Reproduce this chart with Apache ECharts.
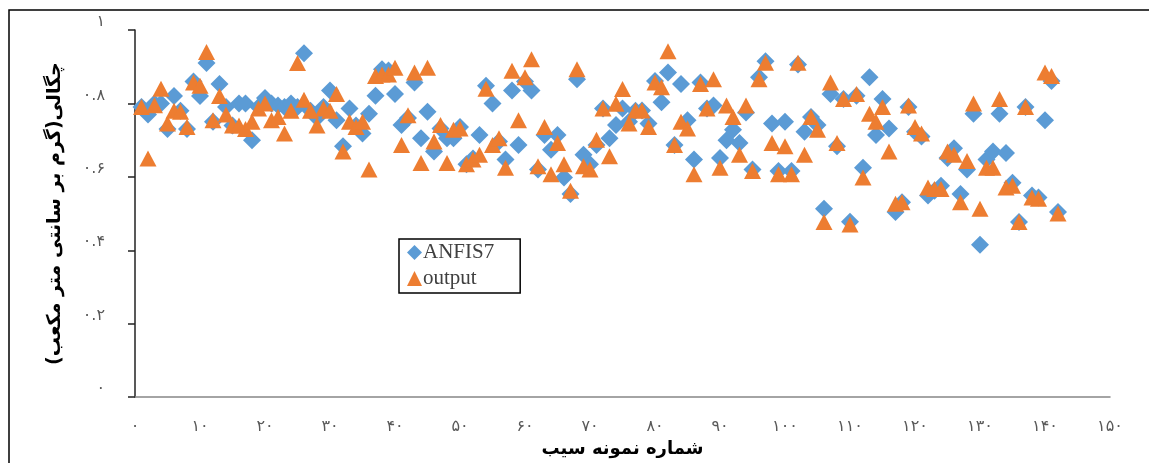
<!DOCTYPE html>
<html>
<head>
<meta charset="utf-8">
<script src="https://cdn.jsdelivr.net/npm/echarts@6/dist/echarts.min.js"></script>
<style>
  html, body { margin: 0; padding: 0; background: #fff; }
  #chart { width: 1149px; height: 463px; }
</style>
</head>
<body>
<div id="chart"></div>
<script>
  // ANFIS7 model values, sample 1..142
  const anfis7 = [
    0.79, 0.77, 0.80, 0.80, 0.73, 0.82, 0.78, 0.73, 0.86, 0.82,
    0.91, 0.75, 0.853, 0.79, 0.74, 0.80, 0.80, 0.70, 0.79, 0.815,
    0.80, 0.794, 0.79, 0.80, 0.79, 0.937, 0.78, 0.76, 0.79, 0.835,
    0.754, 0.683, 0.786, 0.74, 0.718, 0.772, 0.821, 0.893, 0.89, 0.826,
    0.741, 0.76, 0.857, 0.705, 0.777, 0.669, 0.732, 0.705, 0.705, 0.736,
    0.634, 0.65, 0.714, 0.848, 0.80, 0.696, 0.647, 0.835, 0.687, 0.86,
    0.835, 0.62, 0.714, 0.674, 0.714, 0.598, 0.553, 0.866, 0.66, 0.634,
    0.687, 0.786, 0.705, 0.741, 0.786, 0.75, 0.78, 0.781, 0.745, 0.861,
    0.803, 0.884, 0.687, 0.853, 0.754, 0.647, 0.857, 0.786, 0.794, 0.651,
    0.70, 0.728, 0.692, 0.775, 0.62, 0.871, 0.915, 0.745, 0.616, 0.75,
    0.616, 0.906, 0.723, 0.763, 0.741, 0.513, 0.826, 0.683, 0.812, 0.478,
    0.821, 0.625, 0.871, 0.714, 0.812, 0.732, 0.504, 0.531, 0.79, 0.723,
    0.71, 0.549, 0.562, 0.576, 0.651, 0.678, 0.553, 0.62, 0.772, 0.415,
    0.647, 0.669, 0.772, 0.665, 0.584, 0.477, 0.79, 0.549, 0.544, 0.754,
    0.861, 0.504
  ];

  // measured output values, sample 1..142
  const output = [
    0.79, 0.65, 0.795, 0.84, 0.745, 0.78, 0.777, 0.736, 0.857, 0.848,
    0.94, 0.754, 0.82, 0.77, 0.74, 0.74, 0.73, 0.75, 0.786, 0.80,
    0.754, 0.763, 0.718, 0.78, 0.91, 0.81, 0.78, 0.74, 0.786, 0.78,
    0.826, 0.669, 0.75, 0.736, 0.75, 0.62, 0.875, 0.879, 0.879, 0.897,
    0.687, 0.768, 0.884, 0.638, 0.897, 0.696, 0.741, 0.638, 0.728, 0.732,
    0.634, 0.647, 0.66, 0.84, 0.687, 0.705, 0.625, 0.889, 0.754, 0.871,
    0.92, 0.629, 0.736, 0.607, 0.692, 0.634, 0.562, 0.893, 0.629, 0.62,
    0.701, 0.786, 0.656, 0.799, 0.839, 0.745, 0.781, 0.781, 0.736, 0.857,
    0.844, 0.942, 0.687, 0.75, 0.732, 0.607, 0.853, 0.786, 0.866, 0.625,
    0.794, 0.763, 0.66, 0.794, 0.616, 0.866, 0.911, 0.692, 0.607, 0.683,
    0.607, 0.911, 0.66, 0.763, 0.728, 0.477, 0.857, 0.692, 0.812, 0.47,
    0.826, 0.598, 0.772, 0.75, 0.79, 0.669, 0.527, 0.531, 0.794, 0.736,
    0.718, 0.571, 0.567, 0.567, 0.669, 0.66, 0.531, 0.643, 0.80, 0.513,
    0.625, 0.625, 0.812, 0.571, 0.576, 0.477, 0.79, 0.544, 0.54, 0.884,
    0.875, 0.50
  ];

  const xTicks = [0, 10, 20, 30, 40, 50, 60, 70, 80, 90, 100, 110, 120, 130, 140, 150];
  const yTicks = [0, 0.2, 0.4, 0.6, 0.8, 1];

  const faDigits = '۰۱۲۳۴۵۶۷۸۹';
  const toFa = (v) => String(v).replace(/[0-9]/g, (d) => faDigits[+d]);

  const chart = echarts.init(document.getElementById('chart'));

  const option = {
    backgroundColor: '#fff',
    animation: false,
    graphic: [
      {
        type: 'rect',
        silent: true,
        shape: { x: 9, y: 10, width: 1200, height: 500 },
        style: { fill: 'none', stroke: '#000', lineWidth: 1.5 },
      },
    ],
    grid: {
      left: 135,
      right: 39,
      top: 30,
      bottom: 60,
      containLabel: false,
    },
    legend: {
      orient: 'vertical',
      left: 399,
      top: 239,
      width: 122,
      padding: [3, 26, 4, 8],
      borderColor: '#000',
      borderWidth: 1.5,
      itemWidth: 15,
      itemHeight: 15,
      itemGap: 5,
      textStyle: {
        fontFamily: 'Liberation Serif',
        fontSize: 21,
        color: '#404040',
        padding: [0, 0, 0, -4],
      },
      data: [
        { name: 'ANFIS7', icon: 'diamond' },
        { name: 'output', icon: 'triangle' },
      ],
    },
    xAxis: {
      type: 'value',
      min: xTicks[0],
      max: xTicks[xTicks.length - 1],
      interval: 10,
      splitLine: { show: false },
      axisLine: { lineStyle: { color: '#868686', width: 1.5 } },
      axisTick: { show: false },
      axisLabel: {
        margin: 22,
        fontFamily: 'DejaVu Sans',
        fontSize: 16,
        color: '#595959',
        formatter: (v) => toFa(v),
      },
      name: 'شماره نمونه سیب',
      nameLocation: 'middle',
      nameGap: 30,
      nameTextStyle: {
        fontFamily: 'DejaVu Sans',
        fontSize: 18,
        fontWeight: 'bold',
        color: '#000',
      },
    },
    yAxis: {
      type: 'value',
      min: yTicks[0],
      max: yTicks[yTicks.length - 1],
      interval: 0.2,
      splitLine: { show: false },
      axisLine: { show: true, lineStyle: { color: '#222', width: 1.5 } },
      axisTick: { show: true, length: 7, lineStyle: { color: '#222', width: 1.5 } },
      axisLabel: {
        margin: 30,
        verticalAlign: 'bottom',
        fontFamily: 'DejaVu Sans',
        fontSize: 16,
        color: '#595959',
        formatter: (v) => toFa(Math.round(v * 10) / 10),
      },
      name: 'چگالی(گرم بر سانتی متر مکعب)',
      nameLocation: 'middle',
      nameRotate: 90,
      nameGap: 70,
      nameTextStyle: {
        fontFamily: 'DejaVu Sans',
        fontSize: 19,
        fontWeight: 'bold',
        color: '#000',
      },
    },
    series: [
      {
        name: 'ANFIS7',
        type: 'scatter',
        symbol: 'diamond',
        symbolSize: 18,
        itemStyle: { color: '#5B9BD5', opacity: 1 },
        data: anfis7.map((v, i) => [i + 1, v]),
      },
      {
        name: 'output',
        type: 'scatter',
        symbol: 'triangle',
        symbolSize: [17, 16],
        itemStyle: { color: '#ED7D31', opacity: 1 },
        data: output.map((v, i) => [i + 1, v]),
      },
    ],
  };

  chart.setOption(option);
</script>
</body>
</html>
